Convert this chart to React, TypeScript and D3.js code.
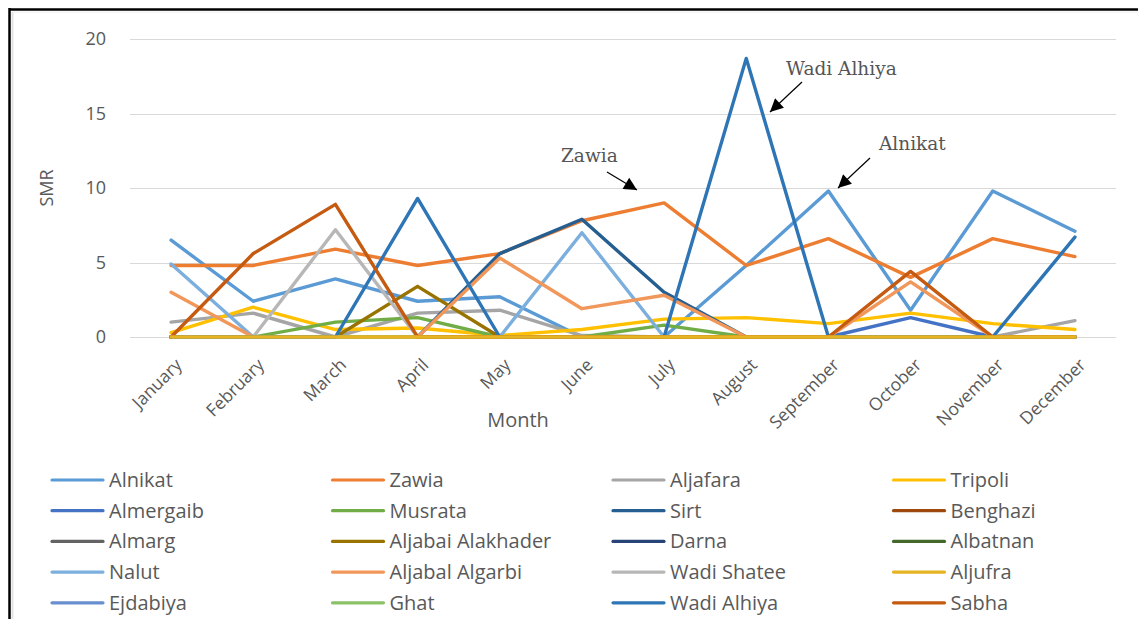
import React, { useEffect, useRef } from "react";
import * as d3 from "d3";

const months = [
  "January", "February", "March", "April", "May", "June",
  "July", "August", "September", "October", "November", "December",
];

const yTicks = [0, 5, 10, 15, 20];

const regions = [
  "Alnikat", "Zawia", "Aljafara", "Tripoli",
  "Almergaib", "Musrata", "Sirt", "Benghazi",
  "Almarg", "Aljabai Alakhader", "Darna", "Albatnan",
  "Nalut", "Aljabal Algarbi", "Wadi Shatee", "Aljufra",
  "Ejdabiya", "Ghat", "Wadi Alhiya", "Sabha",
];

const colors = [
  "#5B9BD5", "#ED7D31", "#A5A5A5", "#FFC000",
  "#4472C4", "#70AD47", "#255E91", "#9E480E",
  "#636363", "#997300", "#264478", "#43682B",
  "#7CAFDD", "#F1975A", "#B7B7B7", "#E6B422",
  "#698ED0", "#8CC168", "#2E75B6", "#C55A11",
];

// SMR per month, one array per region
const alnikat = [6.5, 2.4, 3.9, 2.4, 2.7, 0, 0, 4.8, 9.8, 1.8, 9.8, 7.1];
const zawia = [4.8, 4.8, 5.9, 4.8, 5.6, 7.8, 9.0, 4.8, 6.6, 4.0, 6.6, 5.4];
const aljafara = [1.0, 1.6, 0, 1.6, 1.8, 0.1, 0, 0, 0, 0, 0, 1.1];
const tripoli = [0.3, 2.0, 0.5, 0.6, 0.1, 0.5, 1.2, 1.3, 0.9, 1.6, 0.9, 0.5];
const almergaib = [0, 0, 0, 0, 0, 0, 0, 0, 0, 1.3, 0, 0];
const musrata = [0, 0, 1.0, 1.3, 0, 0, 0.8, 0, 0, 0, 0, 0];
const sirt = [0, 0, 0, 0, 5.6, 7.9, 3.0, 0, 0, 0, 0, 0];
const benghazi = [0, 0, 0, 0, 0, 0, 0, 0, 0, 0, 0, 0];
const almarg = [0, 0, 0, 0, 0, 0, 0, 0, 0, 0, 0, 0];
const aljabaiAlakhader = [0, 0, 0, 3.4, 0, 0, 0, 0, 0, 0, 0, 0];
const darna = [0, 0, 0, 0, 0, 0, 0, 0, 0, 0, 0, 0];
const albatnan = [0, 0, 0, 0, 0, 0, 0, 0, 0, 0, 0, 0];
const nalut = [4.9, 0, 0, 0, 0, 7.0, 0, 0, 0, 0, 0, 0];
const aljabalAlgarbi = [3.0, 0, 0, 0, 5.3, 1.9, 2.8, 0, 0, 3.7, 0, 0];
const wadiShatee = [0, 0, 7.2, 0, 0, 0, 0, 0, 0, 0, 0, 0];
const aljufra = [0, 0, 0, 0, 0, 0, 0, 0, 0, 0, 0, 0];
const ejdabiya = [0, 0, 0, 0, 0, 0, 0, 0, 0, 0, 0, 0];
const ghat = [0, 0, 0, 0, 0, 0, 0, 0, 0, 0, 0, 0];
const wadiAlhiya = [0, 0, 0, 9.3, 0, 0, 0, 18.7, 0, 0, 0, 6.7];
const sabha = [0, 5.6, 8.9, 0, 0, 0, 0, 0, 0, 4.4, 0, 0];

const values = [
  alnikat, zawia, aljafara, tripoli,
  almergaib, musrata, sirt, benghazi,
  almarg, aljabaiAlakhader, darna, albatnan,
  nalut, aljabalAlgarbi, wadiShatee, aljufra,
  ejdabiya, ghat, wadiAlhiya, sabha,
];

// callout labels with the peak they point at
const callouts = ["Zawia", "Wadi Alhiya", "Alnikat"];

const W = 1138;
const H = 619;
const sans = "'Open Sans', 'Noto Sans', sans-serif";
const grey = "#595959";

const App: React.FC = () => {
  const ref = useRef<SVGSVGElement | null>(null);

  useEffect(() => {
    if (!ref.current) return;
    ref.current.innerHTML = "";
    const svg = d3.select(ref.current);

    const x = d3.scalePoint<string>().domain(months).range([130, 1116]).padding(0.5);
    const y = d3.scaleLinear().domain([0, 20]).range([337, 39]);

    // frame
    svg.append("line").attr("x1", 9).attr("x2", W).attr("y1", 9.5).attr("y2", 9.5)
      .attr("stroke", "#000").attr("stroke-width", 2.5);
    svg.append("line").attr("x1", 9.5).attr("x2", 9.5).attr("y1", 8).attr("y2", H)
      .attr("stroke", "#000").attr("stroke-width", 2.5);
    svg.append("line").attr("x1", 12.5).attr("x2", 12.5).attr("y1", 12).attr("y2", H)
      .attr("stroke", "#E3E3E3").attr("stroke-width", 2);
    svg.append("line").attr("x1", 12).attr("x2", W).attr("y1", 12).attr("y2", 12)
      .attr("stroke", "#EEEEEE").attr("stroke-width", 1);

    // gridlines + y labels
    const g = svg.append("g");
    g.selectAll("line.grid").data(yTicks).join("line")
      .attr("x1", 130).attr("x2", 1116)
      .attr("y1", (d) => Math.round(y(d)) + 0.5).attr("y2", (d) => Math.round(y(d)) + 0.5)
      .attr("stroke", "#D9D9D9").attr("stroke-width", 1);
    g.selectAll("text.ytick").data(yTicks).join("text")
      .attr("x", 106).attr("y", (d) => y(d)).attr("dy", "0.35em")
      .attr("text-anchor", "end").attr("font-family", sans).attr("font-size", 18)
      .attr("fill", grey).text((d) => d);

    // x labels, rotated
    g.selectAll("text.xtick").data(months).join("text")
      .attr("transform", (d) => `translate(${(x(d) as number) + 12},${366}) rotate(-45)`)
      .attr("text-anchor", "end").attr("font-family", sans).attr("font-size", 17.5)
      .attr("fill", grey).text((d) => d);

    // axis titles
    svg.append("text").attr("transform", "translate(53,188) rotate(-90)")
      .attr("text-anchor", "middle").attr("font-family", sans).attr("font-size", 18)
      .attr("fill", grey).text("SMR");
    svg.append("text").attr("x", 518).attr("y", 427)
      .attr("text-anchor", "middle").attr("font-family", sans).attr("font-size", 20)
      .attr("fill", grey).text("Month");

    // series
    const line = d3.line<number>()
      .x((_, i) => x(months[i]) as number)
      .y((d) => y(d));
    const order = d3.range(regions.length).filter((i) => i !== 15).concat([15]);
    svg.append("g").selectAll("path").data(order).join("path")
      .attr("d", (i) => line(values[i]))
      .attr("fill", "none")
      .attr("stroke", (i) => colors[i])
      .attr("stroke-width", 3.4)
      .attr("stroke-linejoin", "round")
      .attr("stroke-linecap", "round");

    // callouts
    const defs = svg.append("defs");
    defs.append("marker").attr("id", "arr").attr("viewBox", "0 0 10 10")
      .attr("refX", 10).attr("refY", 5).attr("markerWidth", 15).attr("markerHeight", 13)
      .attr("markerUnits", "userSpaceOnUse").attr("orient", "auto")
      .append("path").attr("d", "M0,0 L10,5 L0,10 z").attr("fill", "#000");

    const calloutPos = [
      { tx: 561, ty: 162, x1: 607, y1: 172, x2: 637, y2: 190 },
      { tx: 786, ty: 75, x1: 802, y1: 82, x2: 770, y2: 112 },
      { tx: 879, ty: 150, x1: 870, y1: 158, x2: 838, y2: 188 },
    ];
    callouts.forEach((c, k) => {
      const p = calloutPos[k];
      svg.append("text").attr("x", p.tx).attr("y", p.ty)
        .attr("font-family", "'DejaVu Serif', serif").attr("font-size", 18.5)
        .attr("fill", "#555").text(c);
      svg.append("line").attr("x1", p.x1).attr("y1", p.y1).attr("x2", p.x2).attr("y2", p.y2)
        .attr("stroke", "#000").attr("stroke-width", 1.2).attr("marker-end", "url(#arr)");
    });

    // legend
    const leg = svg.append("g").selectAll("g").data(regions).join("g")
      .attr("transform", (_, i) => `translate(${52 + (i % 4) * 280.5},${480 + Math.floor(i / 4) * 30.7})`);
    leg.append("line").attr("x1", 0).attr("x2", 51).attr("y1", 0).attr("y2", 0)
      .attr("stroke", (_, i) => colors[i]).attr("stroke-width", 3.2).attr("stroke-linecap", "round");
    leg.append("text").attr("x", 57).attr("y", 0).attr("dy", "0.35em")
      .attr("font-family", sans).attr("font-size", 20).attr("fill", grey)
      .text((d) => d);
  }, []);

  return (
    <div style={{ position: "absolute", left: 0, top: 0, width: W, height: H, background: "#fff" }}>
      <svg ref={ref} width={W} height={H} />
    </div>
  );
};

export default App;
